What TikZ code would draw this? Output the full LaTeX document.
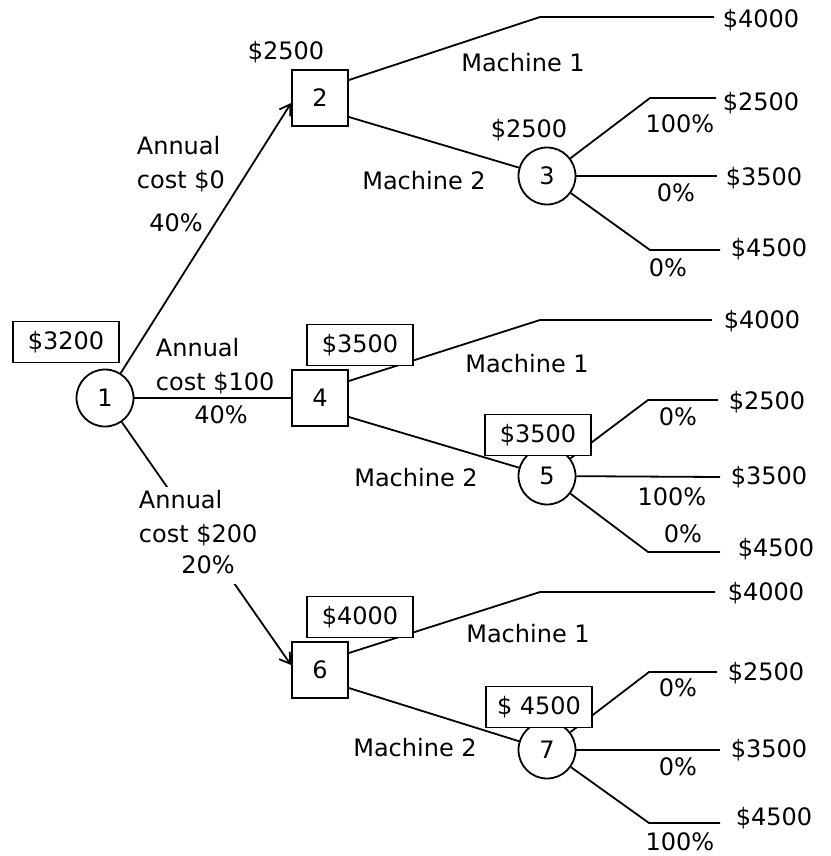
\documentclass[tikz,border=0pt]{standalone}
\usepackage{fontspec}
\setmainfont{DejaVu Sans}
\usetikzlibrary{arrows.meta, calc}
\tikzset{
	decision/.style={rectangle, draw, fill=white, minimum size=56pt, inner sep=0pt},
	chance/.style={circle, draw, fill=white, minimum size=57pt, inner sep=0pt},
	valbox/.style={rectangle, draw, fill=white, minimum width=106pt, minimum height=41pt, inner sep=0pt},
	lbl/.style={inner sep=0pt},
	pay/.style={inner sep=0pt, anchor=west},
	costlbl/.style={align=left, anchor=west, inner sep=3pt, fill=white}
}

\begin{document}
\begin{tikzpicture}[
		x=1pt, y=-1pt,
		line width=1.8pt,
		>={Straight Barb[length=10pt,width=13pt]},
		every node/.style={font=\fontsize{24}{34}\selectfont}
		]
		\useasboundingbox (0,0) rectangle (830,856);
		
		% --- Root and decision nodes ---
		\node[chance] (c1) at (105,398) {1};
		\node[decision] (d2) at (320,98) {2};
		\node[decision] (d4) at (320,398) {4};
		\node[decision] (d6) at (320,670) {6};
		
		% --- Chance nodes ---
		\node[chance] (c3) at (547,176) {3};
		\node[chance] (c5) at (547,476) {5};
		\node[chance] (c7) at (547,750) {7};
		
		% --- Corners and free ends of the branches ---
		\coordinate (d2m1) at (540,17);   \coordinate (d2m1end) at (714,17);
		\coordinate (d4m1) at (540,320);  \coordinate (d4m1end) at (712,320);
		\coordinate (d6m1) at (540,592);  \coordinate (d6m1end) at (715,592);
		
		\coordinate (c3up) at (650,98);   \coordinate (c3upend) at (716,98);
		\coordinate (c3midend) at (717,176);
		\coordinate (c3lo) at (650,250);  \coordinate (c3loend) at (720,250);
		
		\coordinate (c5up) at (648,400);  \coordinate (c5upend) at (718,400);
		\coordinate (c5midend) at (720,477);
		\coordinate (c5lo) at (648,552);  \coordinate (c5loend) at (720,552);
		
		\coordinate (c7up) at (649,672);  \coordinate (c7upend) at (717,672);
		\coordinate (c7midend) at (720,750);
		\coordinate (c7lo) at (649,823);  \coordinate (c7loend) at (720,823);
		
		% --- First stage: annual cost ---
		\draw[->] (c1) -- ($(d2.west)+(0,5)$);
		\draw (c1) -- (d4);
		\draw[->] (c1) -- ($(d6.west)+(0,-5)$);
		
		\node[costlbl] (cost0) at (133,164) {Annual\\cost \$0};
		\node[lbl] (p0) at (176,223) {40\%};
		\node[costlbl] (cost100) at (152,366) {Annual\\cost \$100};
		\node[lbl] (p100) at (221,415) {40\%};
		\node[costlbl] (cost200) at (135,518) {Annual\\cost \$200};
		\node[lbl, fill=white, inner xsep=2pt, inner ysep=10pt] (p200) at (208,565) {20\%};
		
		% --- Machine choice ---
		\draw ($(d2.east)+(0,-18)$) -- (d2m1) -- (d2m1end);
		\draw ($(d2.east)+(0,19)$) -- (c3);
		\draw ($(d4.east)+(0,-17)$) -- (d4m1) -- (d4m1end);
		\draw ($(d4.east)+(0,19)$) -- (c5);
		\draw ($(d6.east)+(0,-17)$) -- (d6m1) -- (d6m1end);
		\draw ($(d6.east)+(0,18)$) -- (c7);
		
		\node[lbl] (m1top) at (523,63) {Machine 1};
		\node[lbl] (m2top) at (424,181) {Machine 2};
		\node[lbl] (m1mid) at (527,364) {Machine 1};
		\node[lbl] (m2mid) at (416,478) {Machine 2};
		\node[lbl] (m1bot) at (528,634) {Machine 1};
		\node[lbl] (m2bot) at (415,748) {Machine 2};
		
		% --- Outcome branches ---
		\draw (c3) -- (c3up) -- (c3upend);
		\draw (c3) -- (c3midend);
		\draw (c3) -- (c3lo) -- (c3loend);
		\draw (c5) -- (c5up) -- (c5upend);
		\draw (c5) -- (c5midend);
		\draw (c5) -- (c5lo) -- (c5loend);
		\draw (c7) -- (c7up) -- (c7upend);
		\draw (c7) -- (c7midend);
		\draw (c7) -- (c7lo) -- (c7loend);
		
		\node[lbl] (q3up) at (680,124) {100\%};
		\node[lbl] (q3mid) at (676,193) {0\%};
		\node[lbl] (q3lo) at (668,268) {0\%};
		\node[lbl] (q5up) at (678,417) {0\%};
		\node[lbl] (q5mid) at (672,497) {100\%};
		\node[lbl] (q5lo) at (683,534) {0\%};
		\node[lbl] (q7up) at (678,688) {0\%};
		\node[lbl] (q7mid) at (678,767) {0\%};
		\node[lbl] (q7lo) at (680,842) {100\%};
		
		% --- Payoffs ---
		\node[pay] (pay2) at (722,20) {\$4000};
		\node[pay] (pay3up) at (722,103) {\$2500};
		\node[pay] (pay3mid) at (725,178) {\$3500};
		\node[pay] (pay3lo) at (730,249) {\$4500};
		\node[pay] (pay4) at (723,321) {\$4000};
		\node[pay] (pay5up) at (728,402) {\$2500};
		\node[pay] (pay5mid) at (730,477) {\$3500};
		\node[pay] (pay5lo) at (737,549) {\$4500};
		\node[pay] (pay6) at (727,593) {\$4000};
		\node[pay] (pay7up) at (727,673) {\$2500};
		\node[pay] (pay7mid) at (730,750) {\$3500};
		\node[pay] (pay7lo) at (735,818) {\$4500};
		
		% --- Expected values ---
		\node[valbox] (v1) at (66,342) {\$3200};
		\node[lbl] (v2) at (286,52) {\$2500};
		\node[lbl] (v3) at (529,130) {\$2500};
		\node[valbox] (v4) at (360,345) {\$3500};
		\node[valbox] (v5) at (538,435) {\$3500};
		\node[valbox] (v6) at (360,617) {\$4000};
		\node[valbox] (v7) at (539,707) {\$ 4500};
		
	\end{tikzpicture}
\end{document}
